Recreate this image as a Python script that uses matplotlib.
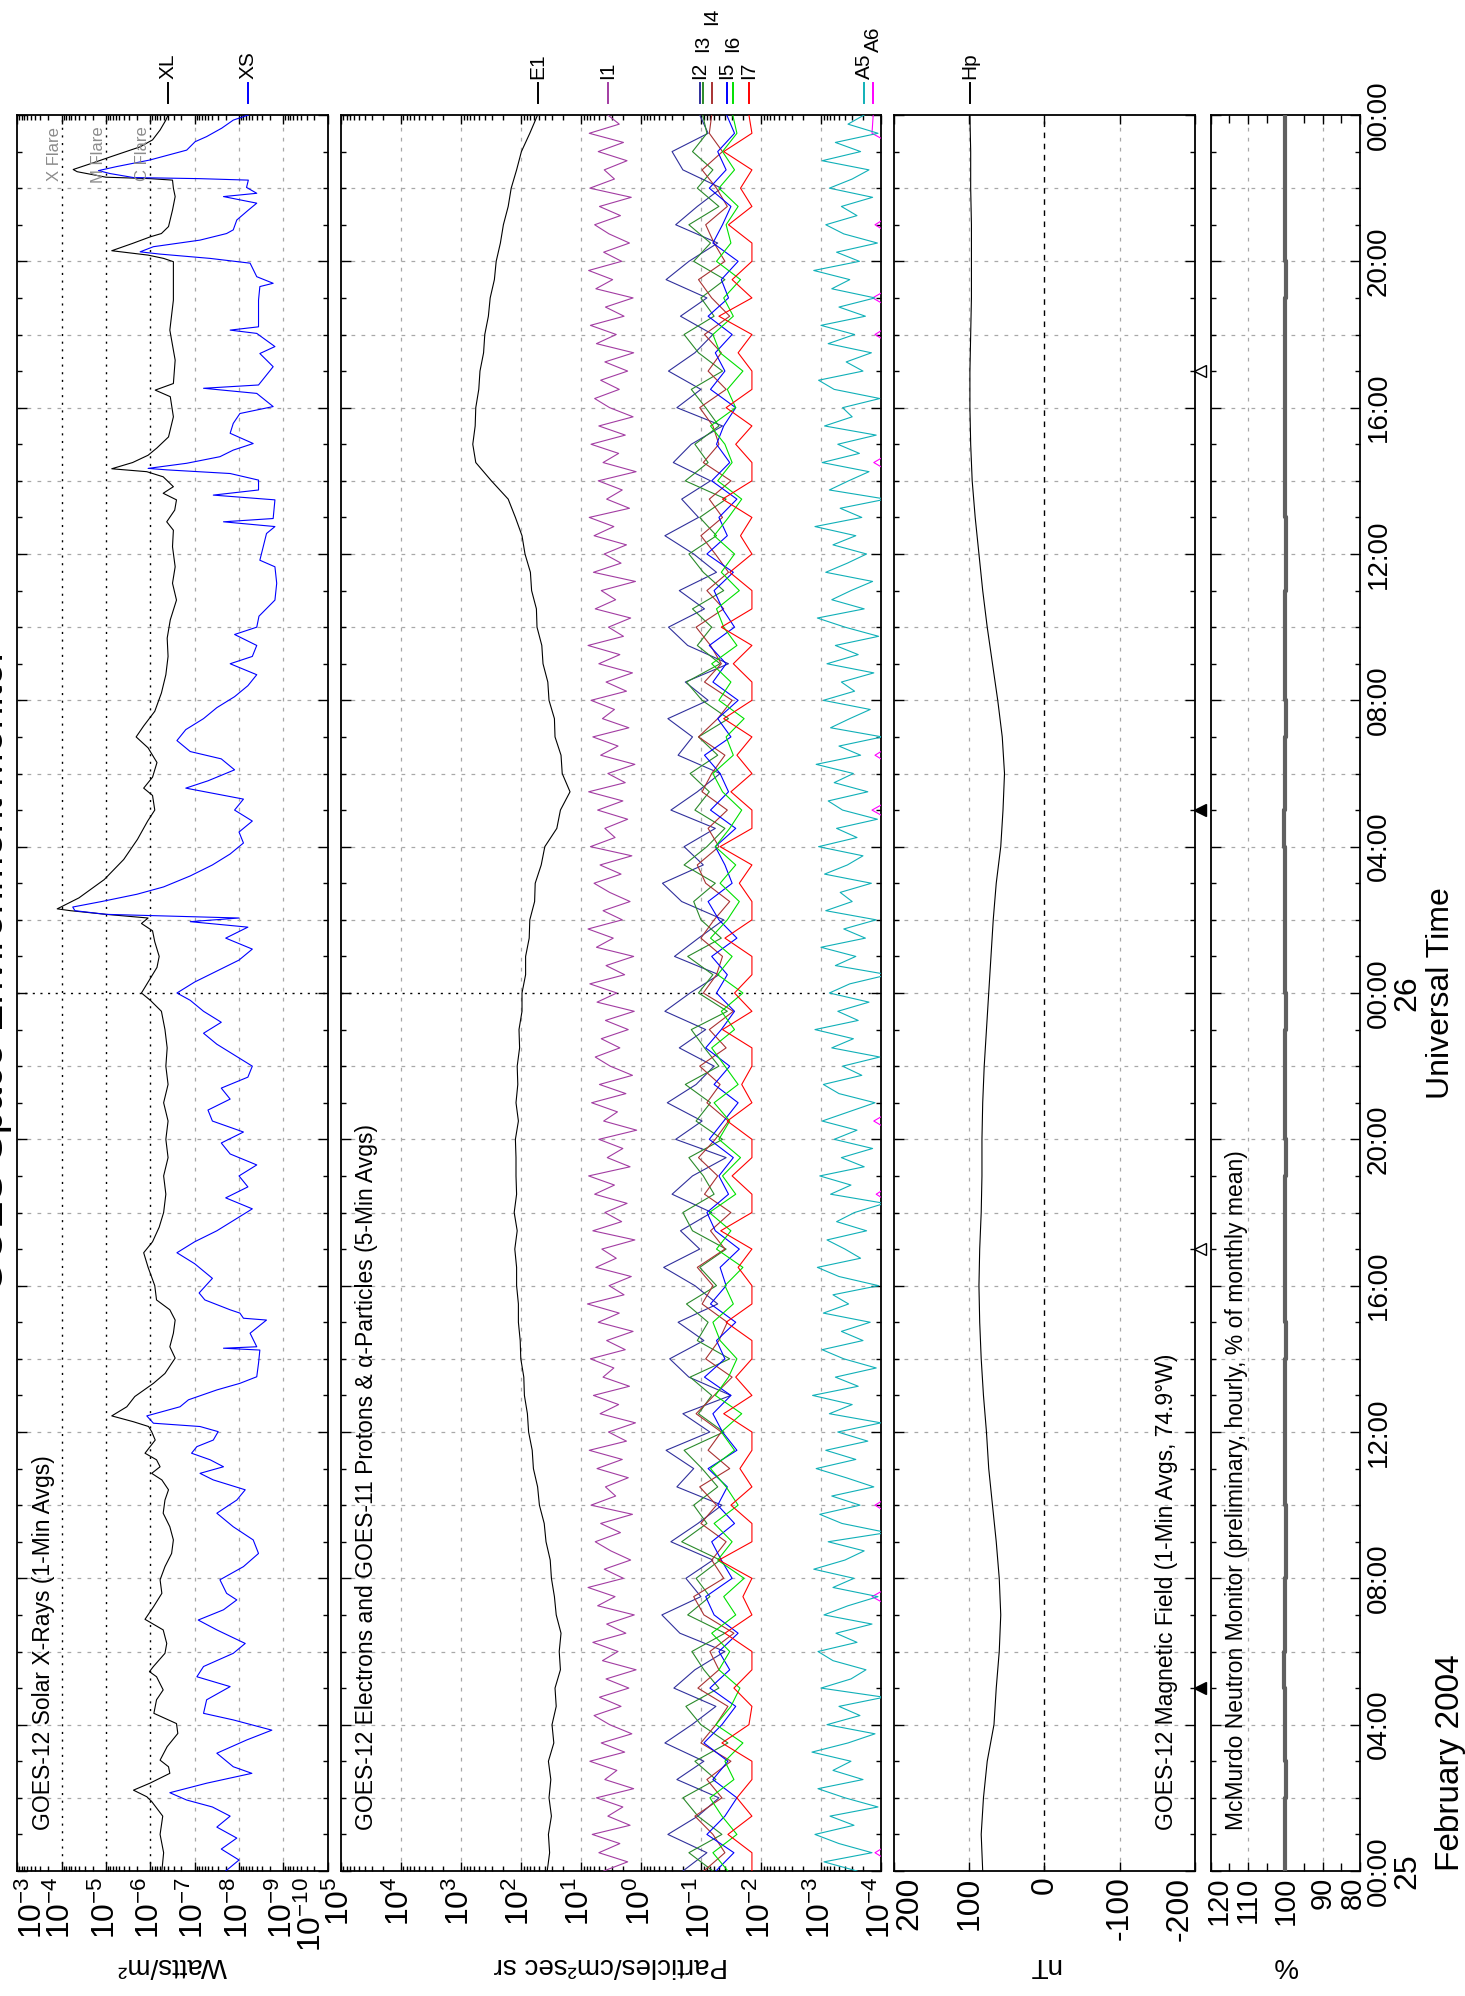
import numpy as np
import matplotlib
matplotlib.use("Agg")
import matplotlib.pyplot as plt
from matplotlib.ticker import LogLocator, MultipleLocator, NullFormatter

plt.rcParams["font.family"] = ["Liberation Sans", "DejaVu Sans"]
plt.rcParams["mathtext.fontset"] = "custom"
plt.rcParams["mathtext.rm"] = "Liberation Sans"
plt.rcParams["mathtext.it"] = "Liberation Sans:italic"
plt.rcParams["mathtext.bf"] = "Liberation Sans:bold"

# ---- data; time = hours since 2004-02-25 00:00 UT ----
# GOES-12 X-rays: (hour, log10 W/m^2)
XL_POINTS = [
    (0.0, -6.26), (0.5, -6.30), (1.0, -6.22), (1.5, -6.28), (1.9, -6.03), (2.03, -5.92),
    (2.21, -5.62), (2.40, -5.99), (2.67, -6.44), (2.85, -6.41), (3.03, -6.22), (3.40, -6.38),
    (3.76, -6.62), (4.03, -6.59), (4.31, -6.08), (4.68, -6.14), (4.95, -6.29), (5.31, -6.14),
    (5.45, -5.98), (5.59, -6.07), (5.95, -6.33), (6.22, -6.37), (6.59, -6.29), (6.88, -5.88),
    (7.22, -6.07), (7.59, -6.26), (7.96, -6.22), (8.32, -6.33), (8.68, -6.48), (9.05, -6.52),
    (9.41, -6.44), (9.78, -6.29), (10.14, -6.33), (10.42, -6.41), (10.69, -6.26), (10.87, -6.03),
    (11.05, -6.22), (11.24, -6.14), (11.42, -5.88), (11.78, -6.11), (12.01, -6.03), (12.15, -5.96),
    (12.28, -5.62), (12.44, -5.13), (12.69, -5.47), (12.97, -5.65), (13.33, -6.07), (13.60, -6.33),
    (14.02, -6.56), (14.33, -6.44), (14.70, -6.52), (15.06, -6.56), (15.34, -6.44), (15.61, -6.14),
    (16.0, -6.10), (16.5, -5.95), (16.9, -5.85), (17.2, -6.05), (17.6, -6.20), (18.0, -6.30),
    (18.5, -6.35), (19.0, -6.30), (19.5, -6.40), (20.0, -6.35), (20.5, -6.40), (21.0, -6.30),
    (21.5, -6.40), (22.0, -6.35), (22.5, -6.38), (23.0, -6.33), (23.5, -6.25), (23.8, -6.00),
    (24.0, -5.80), (24.3, -5.95), (24.7, -6.15), (25.0, -6.20), (25.4, -6.10), (25.7, -6.05),
    (25.9, -5.80), (26.05, -5.95), (26.15, -5.00), (26.25, -4.20), (26.3, -3.90), (26.6, -4.39),
    (27.1, -4.96), (27.65, -5.40), (28.2, -5.71), (28.7, -5.94), (29.0, -6.10), (29.4, -6.05),
    (29.6, -5.85), (29.9, -6.05), (30.3, -6.15), (30.7, -5.95), (31.0, -5.68), (31.3, -5.85),
    (31.7, -6.10), (32.2, -6.25), (32.7, -6.35), (33.2, -6.40), (33.7, -6.38), (34.2, -6.45),
    (34.74, -6.59), (35.2, -6.50), (35.65, -6.56), (36.2, -6.50), (36.65, -6.52), (36.88, -6.37),
    (37.2, -6.55), (37.48, -6.59), (37.66, -6.29), (37.84, -6.52), (38.11, -6.29), (38.25, -5.92),
    (38.33, -5.13), (38.50, -5.60), (38.70, -5.95), (38.90, -6.15), (39.2, -6.41), (39.75, -6.52),
    (40.3, -6.45), (40.48, -6.11), (40.66, -6.52), (41.30, -6.56), (42.12, -6.44), (42.94, -6.52),
    (43.67, -6.52), (43.99, -6.52), (44.08, -6.30), (44.17, -5.95), (44.29, -5.13), (44.49, -5.60),
    (44.67, -6.00), (44.76, -6.25), (44.95, -6.41), (45.40, -6.50), (45.77, -6.56), (46.0, -6.52),
    (46.22, -6.50), (46.26, -6.00), (46.30, -5.00), (46.45, -4.35), (46.51, -4.26), (46.68, -4.68),
    (46.86, -5.11), (47.13, -5.77), (47.32, -6.05), (47.59, -6.22), (47.86, -6.35), (48.0, -6.40),
]
XS_POINTS = [
    (0.0, -7.70), (0.3, -8.00), (0.6, -7.60), (0.9, -7.95), (1.2, -7.50), (1.5, -7.80),
    (1.75, -7.40), (1.94, -6.82), (2.14, -6.44), (2.40, -7.27), (2.67, -8.29), (2.85, -7.87),
    (3.22, -7.50), (3.58, -8.17), (3.85, -8.74), (4.13, -7.87), (4.31, -7.20), (4.68, -7.27),
    (5.04, -7.80), (5.31, -7.05), (5.59, -7.20), (5.95, -7.87), (6.22, -8.14), (6.59, -7.50),
    (6.86, -7.08), (7.14, -7.65), (7.41, -7.95), (7.59, -7.72), (7.96, -7.57), (8.32, -8.10),
    (8.68, -8.44), (9.05, -8.32), (9.41, -7.87), (9.78, -7.50), (10.14, -7.95), (10.42, -8.14),
    (10.69, -7.42), (10.87, -7.12), (11.05, -7.65), (11.24, -7.35), (11.42, -6.93), (11.60, -7.05),
    (11.78, -7.42), (12.01, -7.53), (12.15, -7.12), (12.24, -6.07), (12.44, -5.92), (12.69, -6.67),
    (12.88, -6.86), (13.15, -7.50), (13.33, -8.02), (13.51, -8.40), (13.88, -8.44), (14.24, -8.47),
    (14.29, -7.65), (14.33, -8.40), (14.70, -8.25), (15.06, -8.62), (15.11, -8.10), (15.25, -8.02),
    (15.34, -7.80), (15.52, -7.42), (15.61, -7.23), (15.8, -7.10), (16.2, -7.40), (16.6, -7.00),
    (16.9, -6.60), (17.2, -7.00), (17.5, -7.50), (17.8, -7.90), (18.1, -8.30), (18.4, -7.70),
    (18.7, -8.20), (19.0, -8.00), (19.3, -8.40), (19.6, -7.80), (19.9, -7.60), (20.2, -8.10),
    (20.5, -7.40), (20.8, -7.30), (21.1, -7.80), (21.4, -7.60), (21.7, -8.20), (22.0, -8.30),
    (22.3, -7.90), (22.6, -7.50), (22.9, -7.20), (23.2, -7.60), (23.5, -7.20), (23.8, -6.90),
    (24.0, -6.60), (24.3, -7.00), (24.6, -7.50), (24.9, -8.00), (25.2, -8.30), (25.5, -7.70),
    (25.8, -8.20), (25.95, -6.90), (26.05, -8.00), (26.15, -5.00), (26.25, -4.30), (26.35, -4.25),
    (26.5, -4.90), (26.7, -5.70), (26.9, -6.30), (27.2, -6.90), (27.5, -7.40), (27.8, -7.80),
    (28.1, -8.10), (28.4, -8.00), (28.7, -8.30), (29.0, -7.90), (29.3, -8.10), (29.6, -6.80),
    (29.8, -7.30), (30.1, -7.90), (30.4, -7.60), (30.6, -6.90), (30.9, -6.60), (31.2, -6.80),
    (31.5, -7.20), (31.8, -7.50), (32.1, -7.90), (32.4, -8.20), (32.7, -8.40), (33.0, -7.80),
    (33.2, -8.30), (33.5, -8.40), (33.8, -7.90), (34.0, -8.40), (34.3, -8.45), (34.74, -8.81),
    (35.2, -8.85), (35.65, -8.81), (35.83, -8.47), (36.56, -8.62), (36.75, -8.81), (36.88, -7.65),
    (36.97, -8.77), (37.48, -8.81), (37.61, -7.42), (37.75, -8.44), (38.02, -8.44), (38.20, -7.80),
    (38.30, -6.37), (38.34, -5.95), (38.48, -6.82), (38.66, -7.57), (38.84, -7.87), (39.02, -8.32),
    (39.30, -7.80), (39.57, -7.87), (39.84, -8.02), (40.03, -8.77), (40.39, -8.40), (40.53, -7.20),
    (40.62, -8.44), (41.12, -8.77), (41.48, -8.47), (41.67, -8.81), (42.03, -8.40), (42.12, -7.80),
    (42.21, -8.44), (42.94, -8.44), (43.31, -8.47), (43.40, -8.77), (43.58, -8.40), (43.95, -8.25),
    (44.08, -7.35), (44.20, -6.20), (44.26, -5.77), (44.40, -6.07), (44.58, -7.12), (44.76, -7.72),
    (44.86, -7.87), (45.13, -7.95), (45.40, -8.21), (45.59, -8.40), (45.77, -7.65), (45.86, -8.40),
    (46.02, -8.17), (46.22, -8.21), (46.26, -7.12), (46.29, -5.62), (46.40, -5.09), (46.48, -4.83),
    (46.59, -5.24), (46.77, -5.99), (47.04, -6.82), (47.27, -7.01), (47.41, -7.27), (47.64, -7.61),
    (47.86, -7.87), (48.0, -8.21),
]

# GOES electrons / protons / alphas, log10 particles/cm2 s sr
# half-hour samples
E1_LOG = [1.56, 1.52, 1.54, 1.49, 1.53, 1.50, 1.54, 1.45, 1.48, 1.41,
          1.43, 1.34, 1.36, 1.33, 1.41, 1.44, 1.49, 1.51, 1.58, 1.61,
          1.69, 1.72, 1.79, 1.81, 1.87, 1.89, 1.94, 1.95, 2.00, 2.01,
          2.04, 2.04, 2.07, 2.07, 2.10, 2.06, 2.11, 2.07, 2.08, 2.08,
          2.09, 2.04, 2.08, 2.05, 2.06, 2.02, 2.03, 1.98, 1.98, 1.92,
          1.92, 1.86, 1.85, 1.77, 1.76, 1.66, 1.60, 1.40, 1.34, 1.18,
          1.31, 1.33, 1.43, 1.44, 1.53, 1.55, 1.63, 1.65, 1.73, 1.74,
          1.82, 1.84, 1.93, 1.98, 2.09, 2.21, 2.49, 2.75, 2.80, 2.76,
          2.75, 2.70, 2.68, 2.62, 2.60, 2.54, 2.51, 2.44, 2.41, 2.34,
          2.29, 2.21, 2.16, 2.07, 1.99, 1.85, 1.72]
# quarter-hour samples
I1_LOG = [0.62, 0.22, 0.70, 0.35, 0.81, 0.18, 0.55, 0.30, 0.74, 0.12, 0.60, 0.40,
          0.85, 0.27, 0.66, 0.15, 0.52, 0.78, 0.33, 0.69, 0.20, 0.58, 0.08, 0.64,
          0.38, 0.80, 0.25, 0.57, 0.11, 0.72, 0.43, 0.88, 0.29, 0.61, 0.17, 0.50,
          0.76, 0.34, 0.67, 0.14, 0.83, 0.42, 0.59, 0.21, 0.73, 0.31, 0.86, 0.24,
          0.54, 0.09, 0.68, 0.37, 0.79, 0.19, 0.63, 0.45, 0.84, 0.26, 0.57, 0.13,
          0.71, 0.36, 0.89, 0.28, 0.53, 0.16, 0.75, 0.41, 0.65, 0.10, 0.80, 0.32,
          0.60, 0.23, 0.77, 0.44, 0.87, 0.18, 0.56, 0.30, 0.70, 0.07, 0.62, 0.39,
          0.82, 0.25, 0.69, 0.14, 0.51, 0.76, 0.35, 0.66, 0.21, 0.59, 0.11, 0.73,
          0.40, 0.85, 0.27, 0.58, 0.12, 0.74, 0.46, 0.88, 0.31, 0.63, 0.18, 0.52,
          0.78, 0.33, 0.68, 0.15, 0.84, 0.43, 0.60, 0.22, 0.72, 0.30, 0.87, 0.26,
          0.55, 0.10, 0.67, 0.38, 0.80, 0.20, 0.64, 0.44, 0.83, 0.24, 0.58, 0.14,
          0.70, 0.35, 0.88, 0.29, 0.54, 0.17, 0.76, 0.42, 0.66, 0.09, 0.79, 0.33,
          0.61, 0.24, 0.78, 0.45, 0.86, 0.19, 0.57, 0.31, 0.71, 0.08, 0.63, 0.37,
          0.83, 0.26, 0.70, 0.13, 0.52, 0.77, 0.36, 0.67, 0.22, 0.60, 0.12, 0.74,
          0.41, 0.84, 0.28, 0.59, 0.13, 0.75, 0.47, 0.87, 0.32, 0.62, 0.19, 0.53,
          0.77, 0.34, 0.69, 0.16, 0.85, 0.44, 0.61, 0.23, 0.71, 0.29, 0.86, 0.36,
          0.55]
A5_LOG = [-3.60, -3.05, -3.85, -3.30, -2.90, -3.55, -3.15, -3.95, -3.40, -2.95, -3.70, -3.20,
          -3.50, -2.85, -3.45, -3.90, -3.10, -3.65, -3.30, -4.05, -3.00, -3.50, -3.75, -3.20,
          -2.95, -3.60, -3.25, -3.85, -3.05, -3.45, -3.95, -3.20, -3.55, -2.88, -3.40, -3.72,
          -3.12, -4.10, -3.35, -2.98, -3.65, -3.18, -3.88, -3.42, -2.92, -3.58, -3.08, -3.78,
          -3.28, -4.00, -3.14, -3.52, -2.86, -3.62, -3.24, -3.92, -3.38, -3.02, -3.70, -3.34,
          -3.82, -3.04, -3.46, -3.20, -3.96, -3.30, -2.94, -3.66, -3.40, -3.10, -3.76, -3.26,
          -3.56, -4.06, -3.16, -3.50, -2.98, -3.72, -3.34, -3.86, -3.22, -3.60, -3.02, -3.46,
          -3.90, -3.30, -3.04, -3.68, -3.36, -3.98, -3.18, -3.54, -2.90, -3.62, -3.28, -3.80,
          -3.14, -3.48, -4.12, -3.24, -3.58, -3.00, -3.74, -3.38, -3.92, -3.08, -3.52, -3.32,
          -3.84, -3.06, -3.44, -3.70, -2.96, -3.60, -3.26, -3.94, -3.36, -3.12, -3.78, -3.22,
          -3.54, -2.92, -3.66, -3.30, -4.02, -3.16, -3.48, -3.82, -3.04, -3.56, -3.34, -3.88,
          -3.10, -3.62, -3.24, -3.96, -3.40, -2.94, -3.72, -3.18, -3.50, -3.86, -3.08, -3.44,
          -3.76, -3.20, -3.58, -2.90, -3.68, -3.32, -4.08, -3.14, -3.46, -3.80, -3.02, -3.64,
          -3.28, -3.92, -3.06, -3.52, -3.36, -3.98, -3.22, -2.96, -3.70, -3.42, -3.84, -3.12,
          -3.56, -3.00, -3.74, -3.30, -3.90, -3.18, -3.48, -2.88, -3.64, -3.26, -3.94, -3.38,
          -3.08, -3.60, -3.34, -3.86, -3.14, -3.52, -3.80, -3.02, -3.66, -3.24, -3.95, -3.45,
          -3.72]
# half-hour samples
I2_LOG = [-0.70, -1.10, -0.45, -0.95, -1.30, -0.60, -1.05, -0.40, -0.85, -1.25,
          -0.55, -0.90, -1.40, -0.65, -0.35, -1.00, -0.75, -1.20, -0.50, -0.95,
          -1.35, -0.60, -0.88, -0.42, -1.15, -0.70, -1.50, -0.80, -0.48, -1.05,
          -0.62, -1.28, -0.90, -0.38, -0.98, -0.66, -1.18, -0.52, -0.86, -1.42,
          -0.58, -1.02, -0.44, -0.92, -1.22, -0.64, -1.08, -0.40, -0.82, -1.30,
          -0.56, -0.96, -1.38, -0.68, -0.36, -1.04, -0.72, -1.24, -0.50, -0.94,
          -1.32, -0.62, -0.86, -0.45, -1.12, -0.74, -1.46, -0.78, -0.46, -1.06,
          -0.64, -1.26, -0.88, -0.40, -0.96, -0.68, -1.16, -0.54, -0.84, -1.36,
          -0.60, -1.00, -0.46, -0.90, -1.20, -0.66, -1.10, -0.42, -0.80, -1.28,
          -0.58, -0.94, -1.34, -0.70, -0.52, -1.12, -0.98]
I3_LOG = [-1.20, -0.80, -1.35, -0.95, -0.70, -1.25, -0.90, -1.45, -1.00, -0.75,
          -1.30, -1.05, -0.85, -1.40, -0.78, -1.15, -0.92, -1.32, -0.68, -1.10,
          -0.88, -1.28, -1.02, -0.72, -1.38, -0.96, -1.18, -0.82, -1.48, -0.94,
          -1.12, -0.76, -1.26, -0.98, -1.42, -0.86, -0.70, -1.22, -1.04, -0.80,
          -1.36, -0.92, -1.16, -0.74, -1.30, -1.06, -0.84, -1.44, -0.96, -1.20,
          -0.78, -1.34, -1.00, -0.88, -1.24, -0.72, -1.10, -1.40, -0.90, -1.14,
          -0.82, -1.28, -0.96, -1.46, -1.02, -0.76, -1.32, -0.94, -1.18, -0.86,
          -1.38, -1.04, -0.80, -1.26, -0.98, -1.42, -0.74, -1.12, -0.90, -1.30,
          -1.08, -0.84, -1.36, -0.96, -0.72, -1.22, -1.00, -1.40, -0.88, -1.16,
          -0.80, -1.30, -0.94, -1.20, -0.86, -1.10, -1.03]
I4_LOG = [-1.05, -1.40, -1.20, -0.90, -1.35, -1.10, -1.50, -1.00, -1.25, -1.45,
          -0.95, -1.30, -1.15, -1.55, -1.05, -0.88, -1.38, -1.18, -1.42, -1.00,
          -1.26, -0.98, -1.48, -1.12, -1.34, -0.92, -1.22, -1.52, -1.08, -1.30,
          -1.44, -1.02, -1.20, -0.94, -1.40, -1.16, -1.50, -1.06, -1.28, -0.96,
          -1.24, -1.46, -1.10, -1.32, -0.98, -1.42, -1.14, -1.54, -1.04, -1.26,
          -1.36, -1.00, -1.22, -1.48, -1.08, -0.94, -1.30, -1.12, -1.44, -1.02,
          -1.18, -1.40, -0.96, -1.28, -1.52, -1.06, -1.34, -1.16, -0.92, -1.38,
          -1.10, -1.46, -1.24, -1.00, -1.36, -1.14, -1.50, -1.04, -1.30, -1.20,
          -0.98, -1.42, -1.12, -1.34, -1.06, -1.48, -1.18, -0.96, -1.40, -1.22,
          -1.08, -1.44, -1.26, -1.02, -1.36, -1.14, -1.18]
I5_LOG = [-1.25, -1.55, -1.10, -1.40, -1.60, -1.20, -1.45, -1.05, -1.35, -1.58,
          -1.15, -1.48, -1.30, -1.62, -1.22, -1.08, -1.52, -1.34, -1.18, -1.56,
          -1.28, -1.44, -1.12, -1.60, -1.36, -1.20, -1.50, -1.06, -1.40, -1.26,
          -1.58, -1.16, -1.42, -1.32, -1.64, -1.24, -1.10, -1.46, -1.30, -1.54,
          -1.14, -1.38, -1.62, -1.22, -1.48, -1.08, -1.34, -1.56, -1.26, -1.44,
          -1.18, -1.60, -1.30, -1.12, -1.52, -1.40, -1.24, -1.58, -1.16, -1.46,
          -1.32, -1.06, -1.50, -1.28, -1.62, -1.20, -1.42, -1.14, -1.56, -1.36,
          -1.22, -1.54, -1.10, -1.44, -1.30, -1.60, -1.18, -1.48, -1.26, -1.38,
          -1.58, -1.16, -1.40, -1.24, -1.52, -1.12, -1.46, -1.34, -1.62, -1.20,
          -1.36, -1.50, -1.14, -1.42, -1.28, -1.56, -1.43]
I6_LOG = [-1.45, -1.20, -1.60, -1.35, -1.15, -1.55, -1.40, -1.70, -1.25, -1.50,
          -1.65, -1.30, -1.48, -1.18, -1.58, -1.38, -1.72, -1.28, -1.52, -1.22,
          -1.62, -1.42, -1.16, -1.56, -1.34, -1.68, -1.24, -1.46, -1.60, -1.32,
          -1.20, -1.54, -1.40, -1.70, -1.26, -1.50, -1.14, -1.58, -1.36, -1.66,
          -1.30, -1.48, -1.22, -1.62, -1.40, -1.18, -1.56, -1.34, -1.70, -1.28,
          -1.52, -1.16, -1.44, -1.64, -1.32, -1.58, -1.24, -1.48, -1.68, -1.36,
          -1.20, -1.54, -1.42, -1.72, -1.30, -1.50, -1.18, -1.60, -1.38, -1.26,
          -1.64, -1.34, -1.56, -1.22, -1.46, -1.68, -1.28, -1.52, -1.40, -1.16,
          -1.58, -1.44, -1.70, -1.32, -1.20, -1.54, -1.38, -1.66, -1.26, -1.50,
          -1.42, -1.62, -1.30, -1.56, -1.36, -1.60, -1.53]
I7_LOG = [-1.85, -1.85, -1.45, -1.85, -1.60, -1.85, -1.85, -1.35, -1.80, -1.85,
          -1.55, -1.85, -1.85, -1.40, -1.85, -1.70, -1.85, -1.30, -1.85, -1.85,
          -1.50, -1.85, -1.65, -1.85, -1.85, -1.38, -1.85, -1.58, -1.85, -1.85,
          -1.42, -1.85, -1.85, -1.62, -1.85, -1.33, -1.85, -1.85, -1.52, -1.85,
          -1.85, -1.44, -1.85, -1.68, -1.85, -1.85, -1.36, -1.85, -1.56, -1.85,
          -1.85, -1.40, -1.85, -1.85, -1.64, -1.85, -1.32, -1.85, -1.85, -1.50,
          -1.85, -1.60, -1.85, -1.38, -1.85, -1.85, -1.54, -1.85, -1.34, -1.85,
          -1.85, -1.48, -1.85, -1.66, -1.85, -1.36, -1.85, -1.85, -1.58, -1.85,
          -1.42, -1.85, -1.85, -1.62, -1.85, -1.30, -1.85, -1.52, -1.85, -1.85,
          -1.46, -1.85, -1.66, -1.85, -1.38, -1.85, -1.80]
A6_LOG = [-4.4, -3.90, -4.4, -4.4, -4.4, -4.4, -4.4, -4.4, -4.4, -4.4,
          -4.4, -4.4, -4.4, -4.4, -4.4, -3.85, -4.4, -4.4, -4.4, -4.4,
          -3.90, -4.4, -4.4, -4.4, -4.4, -4.4, -4.4, -4.4, -4.4, -4.4,
          -4.4, -4.4, -4.4, -4.4, -4.4, -4.4, -4.4, -3.92, -4.4, -4.4,
          -4.4, -3.88, -4.4, -4.4, -4.4, -4.4, -4.4, -4.4, -4.4, -4.4,
          -4.4, -4.4, -4.4, -4.4, -4.4, -4.4, -4.4, -4.4, -3.85, -4.4,
          -4.4, -3.90, -4.4, -4.4, -4.4, -4.4, -4.4, -4.4, -4.4, -4.4,
          -4.4, -4.4, -4.4, -4.4, -4.4, -4.4, -4.4, -3.88, -4.4, -4.4,
          -4.4, -4.4, -4.4, -4.4, -3.90, -4.4, -3.86, -4.4, -4.4, -4.4,
          -3.90, -4.4, -4.4, -4.4, -4.4, -3.85, -3.87]

# GOES-12 Hp magnetic field, hourly, nT
HP_NT = [82, 84, 81, 76, 67, 64, 60, 58, 60, 64, 69, 74, 77, 81, 84, 86, 87,
         86, 84, 83, 83, 82, 80, 77, 74, 71, 68, 64, 58, 55, 53, 56, 62, 69,
         76, 82, 87, 92, 96, 98, 99, 99, 98, 97, 97, 97, 98, 98, 99]
# McMurdo neutron monitor, hourly, % of monthly mean
NEUTRON_PCT = [100.1, 100.0, 99.9, 100.0, 100.2, 100.3, 100.1, 100.0, 99.8, 99.9,
               100.0, 100.1, 100.2, 100.0, 99.9, 100.0, 100.1, 100.2, 100.0, 99.9,
               100.0, 100.1, 100.0, 99.9, 100.0, 100.1, 100.2, 100.1, 100.3, 100.2,
               100.0, 99.9, 100.0, 100.1, 100.0, 99.8, 99.9, 100.0, 100.1, 100.0,
               100.2, 100.1, 100.0, 99.9, 100.0, 100.1, 100.0, 100.1, 100.0]

# satellite local midnight (filled) / noon (open) markers, hours
MIDNIGHT_H = [5, 29]
NOON_H = [17, 41]

TIME_LABELS = ["00:00", "04:00", "08:00", "12:00", "16:00", "20:00", "00:00",
               "04:00", "08:00", "12:00", "16:00", "20:00", "00:00"]
DAY_LABELS = [(0, "25"), (24, "26")]
MAG_TICKS = [200, 100, 0, -100, -200]
NM_TICKS = [120, 110, 100, 90, 80]

# ---- layout (pixels of the 1465 x 1996 canvas) ----
W, H = 1465, 1996
TOP, BOTTOM = 115, 1871

fig = plt.figure(figsize=(W / 100, H / 100), dpi=100)

GRID = dict(color="#a8a8a8", lw=0.9, ls=(0, (3, 5)), zorder=1)
DOTS = dict(color="black", lw=1.0, ls=(0, (1.5, 4)), zorder=1)


def panel(x0, x1):
    ax = fig.add_axes([x0 / W, (H - BOTTOM) / H, (x1 - x0) / W, (BOTTOM - TOP) / H])
    for s in ax.spines.values():
        s.set_linewidth(1.3)
    ax.set_ylim(0, 48)
    ax.yaxis.set_major_locator(MultipleLocator(4))
    ax.yaxis.set_minor_locator(MultipleLocator(1))
    ax.tick_params(axis="y", which="both", direction="in", left=True, right=True,
                   labelleft=False, labelright=False, width=1.0)
    ax.tick_params(axis="y", which="major", length=7)
    ax.tick_params(axis="y", which="minor", length=3.5)
    ax.tick_params(axis="x", which="both", direction="in", top=True, bottom=True,
                   labelsize=23, labelrotation=90, pad=4, width=1.0)
    ax.tick_params(axis="x", which="major", length=6.5)
    ax.tick_params(axis="x", which="minor", length=3.5)
    return ax


def time_grid(ax, day_dotted):
    for h in range(2, 48, 2):
        ax.axhline(h, **(DOTS if (day_dotted and h == 24) else GRID))


def series_label(ax, x, text, color, level=0):
    tr = ax.get_xaxis_transform()
    ax.plot([x, x], [1.0068, 1.018], transform=tr, color=color, lw=1.4, clip_on=False)
    ax.text(x, 1.0205 + 0.0154 * level, text, transform=tr, rotation=90,
            ha="center", va="bottom", fontsize=15, clip_on=False)


def panel_title(ax, xfrac, text):
    ax.text(xfrac, 0.0233, text, transform=ax.transAxes, rotation=90,
            ha="center", va="bottom", fontsize=16.5, zorder=5)


def edge_labels(ax, first="left", last="right"):
    labs = ax.get_xticklabels()
    if first:
        labs[0].set_ha(first)
    if last:
        labs[-1].set_ha(last)


# ---- X-ray panel ----
ax_x = panel(17.3, 327.7)
ax_x.set_xscale("log")
ax_x.set_xlim(1e-3, 1e-10)
xr_exp = list(range(-3, -11, -1))
ax_x.set_xticks([10.0 ** e for e in xr_exp])
ax_x.set_xticklabels([f"$10^{{{e}}}$" for e in xr_exp])
ax_x.xaxis.set_minor_locator(LogLocator(base=10, subs=np.arange(2, 10), numticks=40))
ax_x.xaxis.set_minor_formatter(NullFormatter())
edge_labels(ax_x)
time_grid(ax_x, True)
for e in (-4, -5, -6):
    ax_x.axvline(10.0 ** e, **DOTS)
for e in (-7, -8, -9):
    ax_x.axvline(10.0 ** e, **GRID)
for e, name in ((-4, "X Flare"), (-5, "M Flare"), (-6, "C Flare")):
    ax_x.text(10.0 ** e, 47.68, name, rotation=90, ha="right", va="top",
              color="#8c8c8c", fontsize=12, zorder=4)

xl = np.array(XL_POINTS)
xs = np.array(XS_POINTS)
ax_x.plot(10 ** xl[:, 1], xl[:, 0], color="black", lw=0.8, zorder=3)
ax_x.plot(10 ** xs[:, 1], xs[:, 0], color="#0000ff", lw=0.8, zorder=3)
series_label(ax_x, 10 ** xl[-1, 1], "XL", "black")
series_label(ax_x, 10 ** xs[-1, 1], "XS", "#0000ff")
panel_title(ax_x, 0.083, "GOES-12 Solar X-Rays (1-Min Avgs)")

# ---- particle panel ----
ax_p = panel(340.7, 881.0)
ax_p.set_xscale("log")
ax_p.set_xlim(1e5, 1e-4)
pr_exp = list(range(5, -5, -1))
ax_p.set_xticks([10.0 ** e for e in pr_exp])
ax_p.set_xticklabels([f"$10^{{{e}}}$" for e in pr_exp])
ax_p.xaxis.set_minor_locator(LogLocator(base=10, subs=np.arange(2, 10), numticks=40))
ax_p.xaxis.set_minor_formatter(NullFormatter())
time_grid(ax_p, True)
for e in range(4, -4, -1):
    ax_p.axvline(10.0 ** e, **GRID)

# (label, values, sample step in hours, colour, label level)
particle_series = [
    ("E1", E1_LOG, 0.5, "black", 0),
    ("I1", I1_LOG, 0.25, "#a23ca2", 0),
    ("A6", A6_LOG, 0.5, "#ff00ff", 1),
    ("A5", A5_LOG, 0.25, "#10b0b8", 0),
    ("I2", I2_LOG, 0.5, "#30309c", 0),
    ("I3", I3_LOG, 0.5, "#2a8a2a", 1),
    ("I4", I4_LOG, 0.5, "#a83232", 2),
    ("I5", I5_LOG, 0.5, "#0000ff", 0),
    ("I6", I6_LOG, 0.5, "#00e000", 1),
    ("I7", I7_LOG, 0.5, "#ff0000", 0),
]
for name, vals, step, color, level in particle_series:
    hours = np.arange(len(vals)) * step
    flux = 10.0 ** np.array(vals)
    ax_p.plot(flux, hours, color=color, lw=0.8, zorder=3)
    series_label(ax_p, flux[-1], name, color, level)
panel_title(ax_p, 0.047, "GOES-12 Electrons and GOES-11 Protons & \u03b1-Particles (5-Min Avgs)")

# ---- magnetic field panel ----
ax_m = panel(894.0, 1194.7)
ax_m.set_xlim(200, -200)
ax_m.set_xticks(MAG_TICKS)
ax_m.set_xticklabels([str(v) for v in MAG_TICKS])
edge_labels(ax_m)
time_grid(ax_m, False)
ax_m.axvline(100, **GRID)
ax_m.axvline(-100, **GRID)
ax_m.axvline(0, color="black", lw=1.0, ls=(0, (4, 4)), zorder=1)
ax_m.plot(HP_NT, np.arange(len(HP_NT)), color="black", lw=0.8, zorder=3)
series_label(ax_m, HP_NT[-1], "Hp", "black")
panel_title(ax_m, 0.905, "GOES-12 Magnetic Field (1-Min Avgs, 74.9\u00b0W)")
ymark = ax_m.get_yaxis_transform()
ax_m.plot([1.018] * len(MIDNIGHT_H), MIDNIGHT_H, transform=ymark, ls="none",
          marker="<", ms=8, color="black", clip_on=False)
ax_m.plot([1.018] * len(NOON_H), NOON_H, transform=ymark, ls="none",
          marker="<", ms=8, mfc="white", mec="black", mew=1.0, clip_on=False)

# ---- neutron monitor panel ----
ax_n = panel(1210.7, 1360.0)
ax_n.set_xlim(120, 80)
ax_n.set_xticks(NM_TICKS)
ax_n.xaxis.set_minor_locator(MultipleLocator(5))
ax_n.tick_params(axis="x", which="minor", length=6)
ax_n.tick_params(axis="x", which="both", labelbottom=False)
# crowded labels: outer ones are pushed so their glyphs sit on the panel edges
xtr = ax_n.get_xaxis_transform()
for i, v in enumerate(NM_TICKS):
    ha, dx = "center", 0
    if i == 0:
        ha, dx = "left", -4
    elif i == len(NM_TICKS) - 1:
        ha, dx = "right", 4.5
    ax_n.annotate(str(v), xy=(v, 0), xycoords=xtr, xytext=(dx, -4),
                  textcoords="offset points", rotation=90, ha=ha, va="top",
                  fontsize=21, annotation_clip=False)
time_grid(ax_n, False)
ax_n.axvline(110, **GRID)
ax_n.axvline(90, **GRID)
ax_n.plot(NEUTRON_PCT, np.arange(len(NEUTRON_PCT)), color="#606060", lw=3.0,
          drawstyle="steps-pre", zorder=3)
panel_title(ax_n, 0.17, "McMurdo Neutron Monitor (preliminary, hourly, % of monthly mean)")

ax_n.set_yticks(np.arange(0, 49, 4))
ax_n.set_yticklabels(TIME_LABELS)
ax_n.tick_params(axis="y", which="major", labelright=True, labelsize=20, pad=4,
                 labelrotation=90)
for t in ax_n.yaxis.get_major_ticks():
    t.label2.set_va("center")
ytr = ax_n.get_yaxis_transform()
for h, day in DAY_LABELS:
    ax_n.text(1.32, h, day, transform=ytr, rotation=90, ha="center", va="center",
              fontsize=23, clip_on=False)

# ---- axis titles ----
for xc, text in ((172, "Watts/m\u00b2"), (611, "Particles/cm\u00b2sec sr"),
                 (1044, "nT"), (1285, "%")):
    fig.text(xc / W, (H - 1965) / H, text, rotation=180, ha="center", va="center",
             fontsize=20)
fig.text(1441 / W, (H - 993) / H, "Universal Time", rotation=90, ha="center",
         va="center", fontsize=23)
fig.text(1451 / W, (H - BOTTOM) / H, "February 2004", rotation=90, ha="center",
         va="bottom", fontsize=24)
fig.text(12 / W, (H - 970) / H, "GOES Space Environment Monitor", rotation=90,
         ha="right", va="center", fontsize=30)

fig.savefig("out.png", dpi=100)
